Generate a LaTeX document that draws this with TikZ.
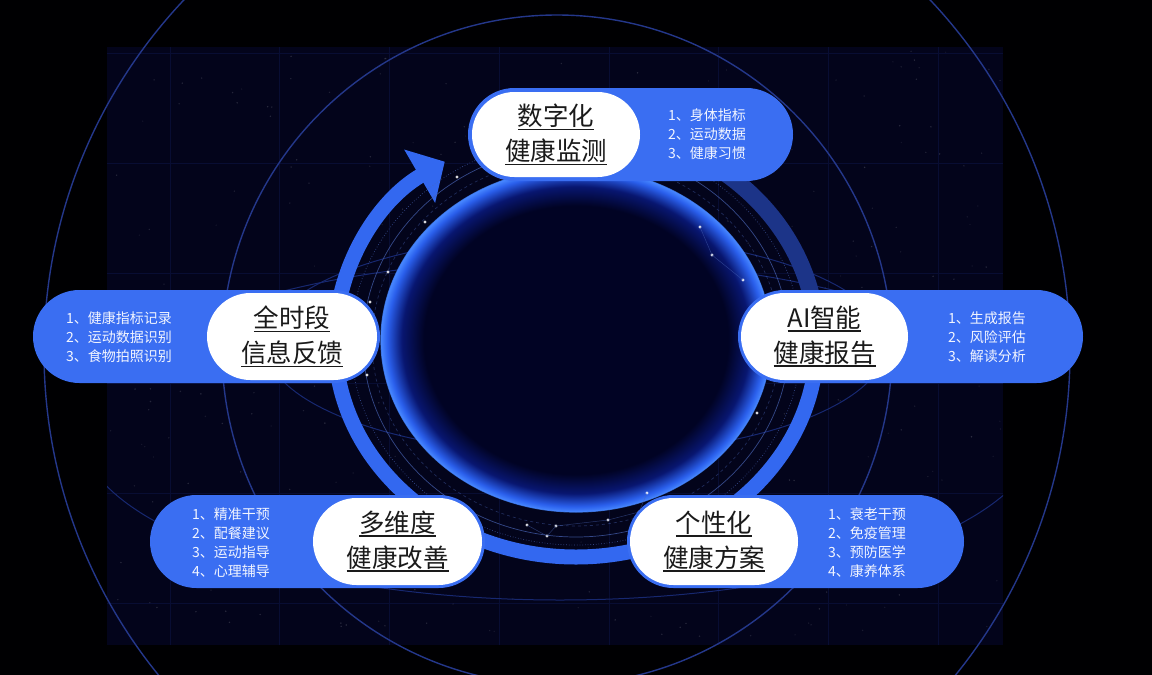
\documentclass[tikz,border=0pt]{standalone}
\usepackage{fontspec}
\newfontfamily\cjk{Noto Sans CJK SC}
\usetikzlibrary{arrows.meta,shapes.misc}
\definecolor{bgout}{HTML}{000002}
\definecolor{bgin}{HTML}{03041B}
\definecolor{gridc}{HTML}{080D33}
\definecolor{linec}{HTML}{24378A}
\definecolor{flatc}{HTML}{172870}
\definecolor{pillblue}{HTML}{3A6EF2}
\definecolor{ringblue}{HTML}{3368F0}
\definecolor{ringdim}{HTML}{1C3488}
\definecolor{thinc}{HTML}{4A66B8}
\definecolor{titlec}{HTML}{1A1A1A}
\definecolor{listc}{HTML}{F2F5FF}
\definecolor{cdark}{HTML}{010324}
\definecolor{ctwo}{HTML}{081670}
\definecolor{cthree}{HTML}{2A5FEC}
\definecolor{cfour}{HTML}{4686FF}
\pgfdeclareradialshading{coreglow}{\pgfpoint{0bp}{0bp}}{color(0bp)=(cdark); color(19.5bp)=(cdark); color(22.3bp)=(ctwo); color(24.2bp)=(cthree); color(25bp)=(cfour); color(50bp)=(cfour)}
\newcommand\titleul[1]{\setbox0=\hbox{#1}\leavevmode\rlap{\rule[-5pt]{\wd0}{1.8pt}}\box0}
\begin{document}
\begin{tikzpicture}[x=1pt,y=-1pt,
  bpill/.style={rounded rectangle, fill=pillblue, inner sep=0pt},
  wpill/.style={rounded rectangle, fill=white, inner sep=0pt, align=center, text=titlec,
     font=\cjk\fontsize{25.5pt}{35pt}\selectfont},
  listtxt/.style={anchor=west, align=left, text=listc, inner sep=0pt,
     font=\cjk\fontsize{14pt}{19pt}\selectfont},
  bigline/.style={draw=linec, line width=1.4pt},
  flatline/.style={draw=flatc, line width=1pt},
  gridline/.style={draw=gridc, line width=0.5pt},
  thinline/.style={draw=thinc, line width=0.7pt, opacity=0.7},
  cdot/.style={fill=white, opacity=0.85},
  clink/.style={draw=thinc, line width=0.5pt, opacity=0.5}]
\useasboundingbox (0,0) rectangle (1152,675);
\fill[bgout] (0,0) rectangle (1152,675);
\fill[bgin] (107,47) rectangle (1003,645);
\begin{scope}
  \clip (107,47) rectangle (1003,645);
  \foreach \gx in {170,279.7,389.4,499.1,608.8,718.5,828.2,937.9}
    \draw[gridline] (\gx,47) -- (\gx,645);
  \foreach \gy in {53,163,273,383,493,603}
    \draw[gridline] (107,\gy) -- (1003,\gy);
  \pgfmathsetseed{12}
  \foreach \k in {1,...,320}{
    \pgfmathsetmacro{\sx}{107+896*rnd}
    \pgfmathsetmacro{\sy}{47+598*rnd}
    \pgfmathsetmacro{\so}{0.25+0.5*rnd}
    \fill[white, opacity=\so*0.22] (\sx,\sy) circle[radius=0.8];
  }
  \draw[flatline] (560,430) ellipse[x radius=480, y radius=170];
  \draw[flatline] (576,345) ellipse[x radius=310, y radius=110];
\end{scope}
\draw[bigline] (557,352) circle[radius=513];
\draw[bigline] (557,350) circle[radius=335];
% ring
\draw[ringdim, line width=17pt] ([shift={(-65:241 and 215)}]576,342) arc[start angle=-65, end angle=2, x radius=241, y radius=215];
\draw[ringblue, line width=15pt, -{Triangle[length=29pt,width=60pt]}] ([shift={(0:241 and 215)}]576,342) arc[start angle=0, end angle=237, x radius=241, y radius=215];
% thin inner lines
\draw[thinline, dotted] (576,342) ellipse[x radius=225, y radius=203];
\draw[thinline] (576,342) ellipse[x radius=213, y radius=195];
\draw[thinline, dashed, opacity=0.4] (576,342) ellipse[x radius=204, y radius=184];
% core
\shade[shading=coreglow] (576,340) ellipse[x radius=195, y radius=172];
\draw[cfour, line width=1.2pt, opacity=0.8] (576,340) ellipse[x radius=195, y radius=172];
% constellation dots
\foreach \p/\q in {457/177,425/222,388/272,370/302,700/227,712/255,743/280,527/525,556/526,547/536,608/520,639/512,647/493,757/413,367/375}
  \fill[cdot] (\p,\q) circle[radius=1.6];
\draw[clink] (527,525) -- (547,536) -- (556,526) -- (608,520) -- (639,512) -- (647,493);
\draw[clink] (700,227) -- (712,255) -- (743,280);
% pills
\node[bpill, minimum width=325pt, minimum height=93pt] (topb) at (630.5,134.5) {};
\node[wpill, minimum width=168pt, minimum height=85pt] (topw) at (556,134.5) {\titleul{数字化}\\\titleul{健康监测}};
\node[listtxt] (topl) at (668,134) {1、身体指标\\2、运动数据\\3、健康习惯};

\node[bpill, minimum width=347pt, minimum height=93pt] (leftb) at (206.5,336.5) {};
\node[wpill, minimum width=170pt, minimum height=87pt] (leftw) at (292,336.5) {\titleul{全时段}\\\titleul{信息反馈}};
\node[listtxt] (leftl) at (66,337) {1、健康指标记录\\2、运动数据识别\\3、食物拍照识别};

\node[bpill, minimum width=345pt, minimum height=93pt] (rightb) at (910.5,336.5) {};
\node[wpill, minimum width=167pt, minimum height=87pt] (rightw) at (824.5,336.5) {\titleul{AI智能}\\\titleul{健康报告}};
\node[listtxt] (rightl) at (948,337) {1、生成报告\\2、风险评估\\3、解读分析};

\node[bpill, minimum width=335pt, minimum height=93pt] (blb) at (317.5,541.5) {};
\node[wpill, minimum width=169pt, minimum height=87pt] (blw) at (397.5,541.5) {\titleul{多维度}\\\titleul{健康改善}};
\node[listtxt] (bll) at (192,543) {1、精准干预\\2、配餐建议\\3、运动指导\\4、心理辅导};

\node[bpill, minimum width=337pt, minimum height=93pt] (brb) at (795.5,541.5) {};
\node[wpill, minimum width=168pt, minimum height=87pt] (brw) at (714,541.5) {\titleul{个性化}\\\titleul{健康方案}};
\node[listtxt] (brl) at (828,543) {1、衰老干预\\2、免疫管理\\3、预防医学\\4、康养体系};
\end{tikzpicture}
\end{document}
